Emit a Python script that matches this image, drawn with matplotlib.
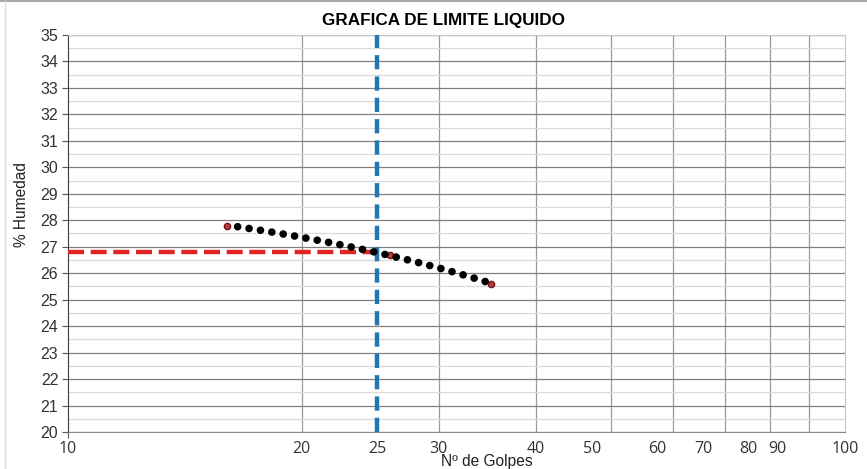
import matplotlib.pyplot as plt
import numpy as np
from matplotlib.transforms import blended_transform_factory

# Datos del ensayo
golpes = [16, 26, 35]
humedad = [27.8, 26.7, 25.6]
golpes_ll = 25
limite_liquido = 26.8

y_ticks = list(range(20, 36))
x_labels = ['10', '20', '25', '30', '40', '50', '60', '70', '80', '90', '100']
# posicion de las etiquetas tal como aparecen en la figura original
x_label_pos = [10, 20, 25, 30, 40, 47.3, 57.3, 65.7, 75, 81.8, 100]

plt.rcParams['font.family'] = ['Liberation Sans', 'DejaVu Sans']

fig = plt.figure(figsize=(8.67, 4.69), dpi=100)
ax = fig.add_axes([0.0784, 0.0789, 0.8962, 0.8465])
ax.set_xscale('log')
ax.set_xlim(10, 100)
ax.set_ylim(20, 35)

# rejilla
ax.set_yticks(y_ticks)
ax.set_yticks(np.arange(20.5, 35, 1), minor=True)
ax.yaxis.grid(True, which='major', color='#808080', lw=0.9)
ax.yaxis.grid(True, which='minor', color='#dadada', lw=0.9)
ax.set_xticks([10])
ax.set_xticks(range(20, 100, 10), minor=True)
ax.xaxis.grid(True, which='minor', color='#9a9a9a', lw=0.9)
ax.set_xticklabels([])
ax.set_xticklabels([], minor=True)
ax.tick_params(axis='x', which='minor', length=0)
ax.tick_params(axis='y', which='minor', length=0)
ax.tick_params(axis='y', which='major', length=4, color='#555555', labelsize=11.5,
               labelcolor='#333333', pad=3)
ax.tick_params(axis='x', which='major', length=4, color='#555555')
ax.set_axisbelow(True)

for s in ['top', 'right']:
    ax.spines[s].set_color('#c8c8c8')
ax.spines['left'].set_color('#3a3a3a')
ax.spines['bottom'].set_color('#8c8c8c')

# etiquetas eje x
tr = blended_transform_factory(ax.transData, ax.transAxes)
for lab, pos in zip(x_labels, x_label_pos):
    ax.text(pos, -0.022, lab, transform=tr, ha='center', va='top', fontsize=11.5,
            color='#333333', family=['Open Sans', 'DejaVu Sans'], clip_on=False)

# lineas de referencia
ax.axvline(golpes_ll, color='#1f77b4', lw=3.2, dashes=(3.2, 1.6), zorder=3)
ax.plot([10, golpes_ll], [limite_liquido, limite_liquido], color='#e02424', lw=3.2,
        dashes=(3.6, 1.5), zorder=3)

# puntos y linea de tendencia (ajuste lineal)
ax.plot(golpes, humedad, 'o', color='#c03a3a', mec='#6a1a1a', ms=4.5, zorder=4)
coef = np.polyfit(golpes, humedad, 1)
xt = np.linspace(min(golpes), max(golpes), 300)
ax.plot(xt, np.polyval(coef, xt), color='black', lw=5.5,
        linestyle=(0.05, (0.01, 1.5)), dash_capstyle='round', zorder=5)

fig.text(443 / 867, 1 - 20 / 469, 'GRAFICA DE LIMITE LIQUIDO', ha='center', va='center',
         fontsize=12.3, fontweight='bold')
fig.text(487 / 867, 1 - 461 / 469, 'Nº de Golpes', ha='center', va='center', fontsize=11.2,
         color='#222222')
fig.text(22 / 867, 1 - 205 / 469, '% Humedad', ha='center', va='center', fontsize=11.2,
         rotation=90, color='#222222')

# borde del grafico
fig.add_artist(plt.Line2D([0, 1], [0.997, 0.997], color='#999999', lw=1.2))
fig.add_artist(plt.Line2D([0.006, 0.006], [0, 0.997], color='#dddddd', lw=1))

plt.savefig('out.png')
